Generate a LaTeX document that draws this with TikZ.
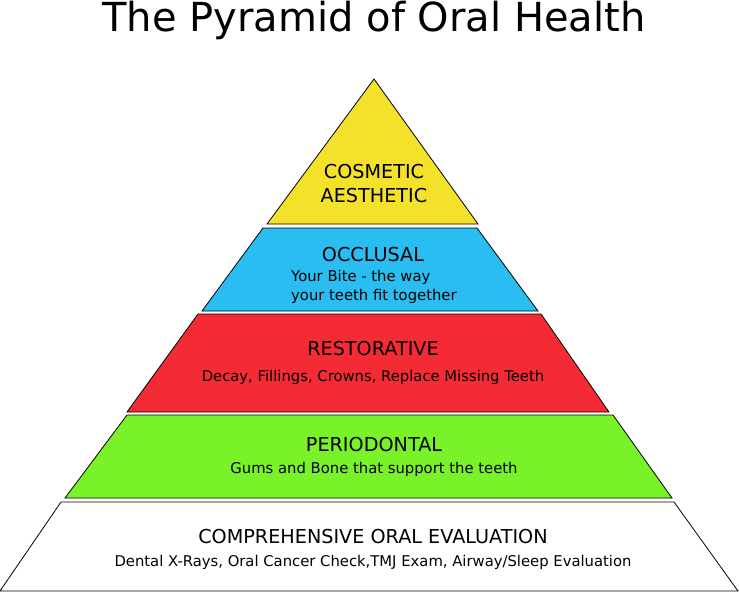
\documentclass[tikz,border=0pt]{standalone}
\usepackage{fontspec}
\setmainfont{DejaVu Sans}
\definecolor{cyel}{HTML}{F4E22A}
\definecolor{cblu}{HTML}{2ABDF2}
\definecolor{cred}{HTML}{F42A35}
\definecolor{cgrn}{HTML}{7AF22A}
\begin{document}
\begin{tikzpicture}[x=1pt,y=-1pt,
  tier/.style={draw=black,line width=0.8pt,line join=miter},
  head/.style={font=\fontsize{19.2}{22}\selectfont,inner sep=0pt,anchor=base},
  sub/.style={font=\fontsize{14.8}{17}\selectfont,inner sep=0pt,anchor=base}]
\useasboundingbox (0,0) rectangle (739,592);
\fill[white] (0,0) rectangle (739,592);
\node[font=\fontsize{40}{44}\selectfont,inner sep=0pt,anchor=base] (title) at (374,31) {The Pyramid of Oral Health};
% tiers
\draw[tier,fill=cyel] (374,79) -- (478,224) -- (267,224) -- cycle;
\draw[tier,fill=cblu] (263,228) -- (477,228) -- (538,311) -- (202,311) -- cycle;
\draw[tier,fill=cred] (198,314) -- (541,314) -- (609,412) -- (127,412) -- cycle;
\draw[tier,fill=cgrn] (127,415) -- (613,415) -- (672,498) -- (65,498) -- cycle;
\draw[tier,fill=white] (61,502) -- (674,502) -- (738,591) -- (0,591) -- cycle;
% labels
\node[head] (cos) at (374,178) {COSMETIC};
\node[head] (aes) at (374,202) {AESTHETIC};
\node[head] (occ) at (373,261) {OCCLUSAL};
\node[sub,anchor=base west] (bite1) at (291,281) {Your Bite - the way};
\node[sub,anchor=base west] (bite2) at (291,300) {your teeth fit together};
\node[head] (res) at (373,355) {RESTORATIVE};
\node[sub] (ressub) at (373,381) {Decay, Fillings, Crowns, Replace Missing Teeth};
\node[head] (per) at (374,451) {PERIODONTAL};
\node[sub] (persub) at (374,473) {Gums and Bone that support the teeth};
\node[head] (com) at (373,543) {COMPREHENSIVE ORAL EVALUATION};
\node[sub] (comsub) at (373,566) {Dental X-Rays, Oral Cancer Check,TMJ Exam, Airway/Sleep Evaluation};
\end{tikzpicture}
\end{document}
